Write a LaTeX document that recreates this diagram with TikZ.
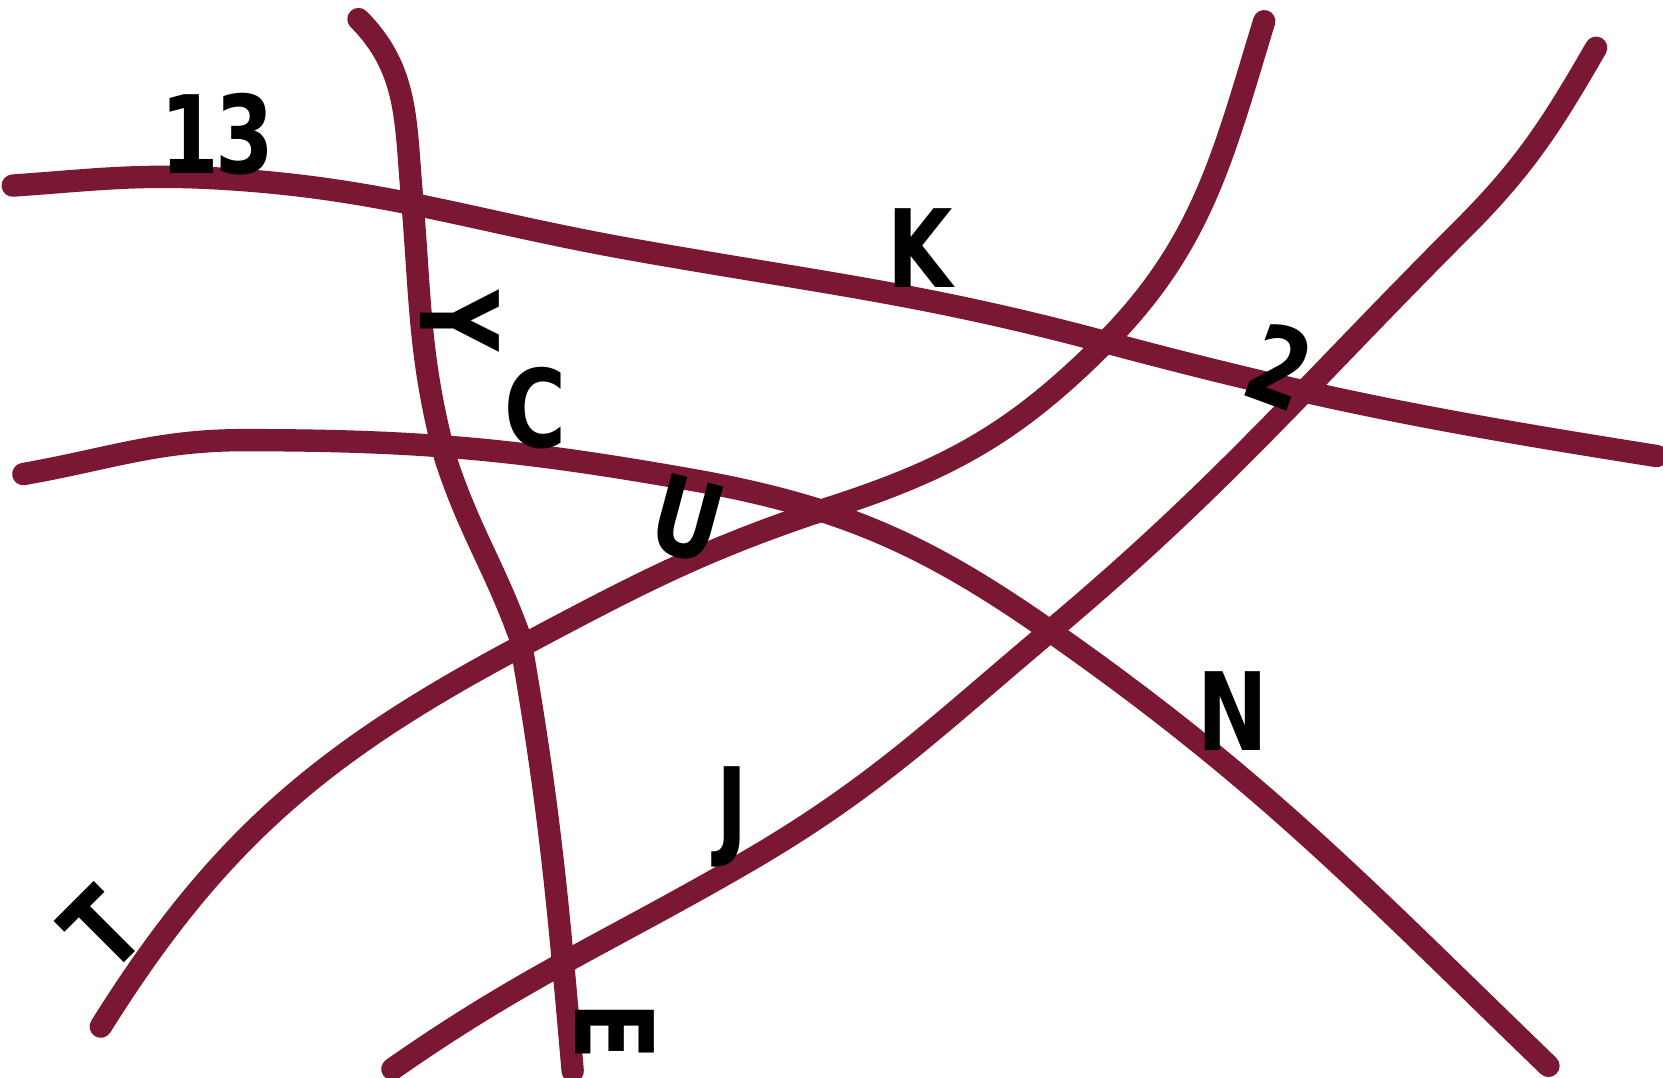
\documentclass[tikz,border=0pt]{standalone}
\usepackage{fontspec}
\setmainfont{DejaVu Sans}
\newfontfamily\inkfont[FakeStretch=0.78]{DejaVu Sans}
\definecolor{inkred}{RGB}{122,24,52}
\usetikzlibrary{positioning}

\begin{document}
\begin{tikzpicture}[
  x=0.01cm, y=-0.01cm,
  inkline/.style={draw=inkred, line width=6pt, line cap=round, line join=round},
  glyph/.style={inner sep=0pt, font=\inkfont\fontsize{29}{31}\selectfont\bfseries, text=black}
]
\useasboundingbox (0,0) rectangle (1568,1016);

% the five strokes
\draw[inkline] (12,175) to[out=4, in=177] (200,168) to[out=-3, in=170] (600,236)
  to[out=-10, in=165] (1040,322) to[out=-15, in=171] (1562,430);
\draw[inkline] (338,18) to[out=-45, in=95] (388,180) to[out=-85, in=105] (420,432)
  to[out=-72, in=110] (490,600) to[out=-80, in=95] (540,1010);
\draw[inkline] (22,447) to[out=10, in=180] (230,415) to[out=0, in=170] (650,452)
  to[out=-10, in=145] (990,595) to[out=-35, in=136] (1460,1005);
\draw[inkline] (95,968) to[out=58, in=208] (490,610) to[out=28, in=198] (785,478)
  to[out=18, in=225] (1040,325) to[out=45, in=253] (1192,20);
\draw[inkline] (370,1008) to[out=35, in=210] (700,815) to[out=30, in=220] (990,595)
  to[out=40, in=225] (1380,215) to[out=45, in=240] (1505,45);

% marks
\node[glyph, anchor=south] (bmark) at (205,166) {1\kern-1pt3};
\node[glyph, anchor=south] (kmark) at (868,272) {K};
\node[glyph, rotate=-90] (ymark) at (434,303) {Y};
\node[glyph, anchor=south] (cmark) at (505,424) {C};
\node[glyph, rotate=-15, anchor=north] (umark) at (658,452) {U};
\node[glyph, rotate=-20] (twomark) at (1207,345) {2};
\node[glyph, anchor=south] (nmark) at (1162,708) {N};
\node[glyph, anchor=south] (jmark) at (690,818) {J};
\node[glyph, rotate=45] (tmark) at (96,876) {T};
\node[glyph, rotate=-90] (emark) at (580,972) {E};
\end{tikzpicture}
\end{document}
